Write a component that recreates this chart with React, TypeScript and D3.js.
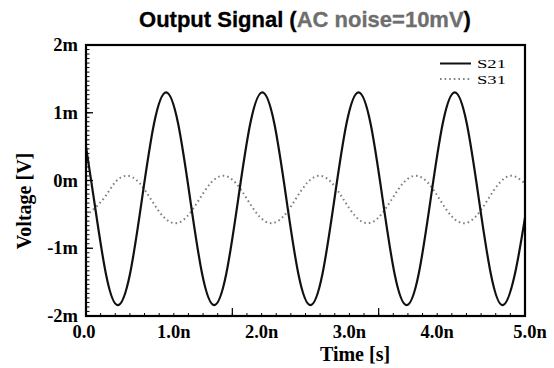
import React from "react";
import * as d3 from "d3";

// S21: solid black signal (time in ns, voltage in mV)
const s21Time = [0.0, 0.09, 0.227, 0.364, 0.501, 0.638, 0.775, 0.912, 1.049, 1.186, 1.323, 1.46, 1.597, 1.734, 1.871, 2.008, 2.145, 2.282, 2.419, 2.556, 2.693, 2.83, 2.967, 3.104, 3.241, 3.378, 3.515, 3.652, 3.789, 3.926, 4.063, 4.2, 4.337, 4.474, 4.611, 4.748, 4.885, 5.0];
const s21Value = [0.5, -0.27, -1.38, -1.84, -1.38, -0.27, 0.84, 1.3, 0.84, -0.27, -1.38, -1.84, -1.38, -0.27, 0.84, 1.3, 0.84, -0.27, -1.38, -1.84, -1.38, -0.27, 0.84, 1.3, 0.84, -0.27, -1.38, -1.84, -1.38, -0.27, 0.84, 1.3, 0.84, -0.27, -1.38, -1.84, -1.38, -0.55];

// S31: dotted gray signal
const s31Time = [0.0, 0.193, 0.33, 0.467, 0.604, 0.741, 0.878, 1.015, 1.152, 1.289, 1.426, 1.563, 1.7, 1.837, 1.974, 2.111, 2.248, 2.385, 2.522, 2.659, 2.796, 2.933, 3.07, 3.207, 3.344, 3.481, 3.618, 3.755, 3.892, 4.029, 4.166, 4.303, 4.44, 4.577, 4.714, 4.851, 4.988];
const s31Value = [-0.52, -0.28, -0.03, 0.07, -0.03, -0.28, -0.53, -0.63, -0.53, -0.28, -0.03, 0.07, -0.03, -0.28, -0.53, -0.63, -0.53, -0.28, -0.03, 0.07, -0.03, -0.28, -0.53, -0.63, -0.53, -0.28, -0.03, 0.07, -0.03, -0.28, -0.53, -0.63, -0.53, -0.28, -0.03, 0.07, -0.03];

const xTicks = [0, 1, 2, 3, 4, 5];
const xTickLabels = ["0.0", "1.0n", "2.0n", "3.0n", "4.0n", "5.0n"];
const yTicks = [2, 1, 0, -1, -2];
const yTickLabels = ["2m", "1m", "0m", "-1m", "-2m"];
const seriesNames = ["S21", "S31"];

const L = 86, R = 525, T = 45, B = 316;

export default function App() {
  const x = d3.scaleLinear().domain([0, 5]).range([L, R]);
  const y = d3.scaleLinear().domain([-2, 2]).range([B, T]);

  const line = d3
    .line<[number, number]>()
    .x((d) => x(d[0]))
    .y((d) => y(d[1]))
    .curve(d3.curveNatural);

  const d21 = line(s21Time.map((t, i) => [t, s21Value[i]] as [number, number])) || "";
  const d31 = line(s31Time.map((t, i) => [t, s31Value[i]] as [number, number])) || "";

  // minor ticks
  const xMinor = d3.range(0, 31).map((i) => i / 6);
  const xMajorInner = [5 / 3, 10 / 3];
  const yMinor = d3.range(0, 61).map((i) => -2 + i / 15);

  const serif = "'Liberation Serif', 'Times New Roman', serif";
  const sans = "'Liberation Sans', Arial, sans-serif";

  return (
    <svg width={554} height={368} style={{ position: "absolute", left: 0, top: 0, background: "#fff" }}>
      <defs>
        <clipPath id="plot">
          <rect x={L} y={T} width={R - L} height={B - T} />
        </clipPath>
      </defs>
      <rect width={554} height={368} fill="#fff" />

      {/* title */}
      <text x={305} y={27} textAnchor="middle" fontFamily={sans} fontWeight="bold" fontSize={22} fill="#000" stroke="#000" strokeWidth={0.3}>
        Output Signal (<tspan fill="#6e6e6e" stroke="#6e6e6e">AC noise=10mV</tspan>)
      </text>

      {/* minor ticks */}
      {xMinor.map((t, i) => (
        <line key={"xm" + i} x1={x(t)} x2={x(t)} y1={B} y2={B - 3} stroke="#000" strokeWidth={1} />
      ))}
      {xMajorInner.map((t, i) => (
        <line key={"xM" + i} x1={x(t)} x2={x(t)} y1={B} y2={B - 8} stroke="#000" strokeWidth={1.2} />
      ))}
      {yMinor.map((v, i) => (
        <line key={"ym" + i} x1={L} x2={L + 3.5} y1={y(v)} y2={y(v)} stroke="#000" strokeWidth={1} />
      ))}
      {yTicks.map((v, i) => (
        <line key={"yM" + i} x1={L} x2={L + 7} y1={y(v)} y2={y(v)} stroke="#000" strokeWidth={1.3} />
      ))}

      {/* series */}
      <g clipPath="url(#plot)">
        <path d={d31} fill="none" stroke="#808080" strokeWidth={2} strokeDasharray="1.6,3" />
        <path d={d21} fill="none" stroke="#111" strokeWidth={2.2} />
      </g>

      {/* frame */}
      <rect x={L} y={T} width={R - L} height={B - T} fill="none" stroke="#000" strokeWidth={2.2} />

      {/* y tick labels */}
      {yTicks.map((v, i) => (
        <text key={"yl" + i} x={78} y={y(v)} dy="0.33em" textAnchor="end" fontFamily={serif} fontWeight="bold" fontSize={18.5} fill="#000">
          {yTickLabels[i]}
        </text>
      ))}
      {/* x tick labels */}
      {xTicks.map((v, i) => (
        <text key={"xl" + i} x={x(v) + (i === 0 ? -2 : i === 5 ? 5 : 0)} y={338} textAnchor="middle" fontFamily={serif} fontWeight="bold" fontSize={18.5} fill="#000">
          {xTickLabels[i]}
        </text>
      ))}

      {/* axis titles */}
      <text x={355} y={361} textAnchor="middle" fontFamily={serif} fontWeight="bold" fontSize={20} fill="#000">
        Time [s]
      </text>
      <text transform="translate(31,201) rotate(-90)" textAnchor="middle" fontFamily={serif} fontWeight="bold" fontSize={20} fill="#000">
        Voltage [V]
      </text>

      {/* legend */}
      <line x1={440} x2={471} y1={63.5} y2={63.5} stroke="#111" strokeWidth={2} />
      <line x1={440} x2={471} y1={79} y2={79} stroke="#808080" strokeWidth={2} strokeDasharray="1.6,3" />
      <text x={477} y={68} fontFamily={serif} fontSize={13.5} textLength={29} lengthAdjust="spacingAndGlyphs" fill="#000">{seriesNames[0]}</text>
      <text x={477} y={83.5} fontFamily={serif} fontSize={13.5} textLength={29} lengthAdjust="spacingAndGlyphs" fill="#000">{seriesNames[1]}</text>
    </svg>
  );
}
